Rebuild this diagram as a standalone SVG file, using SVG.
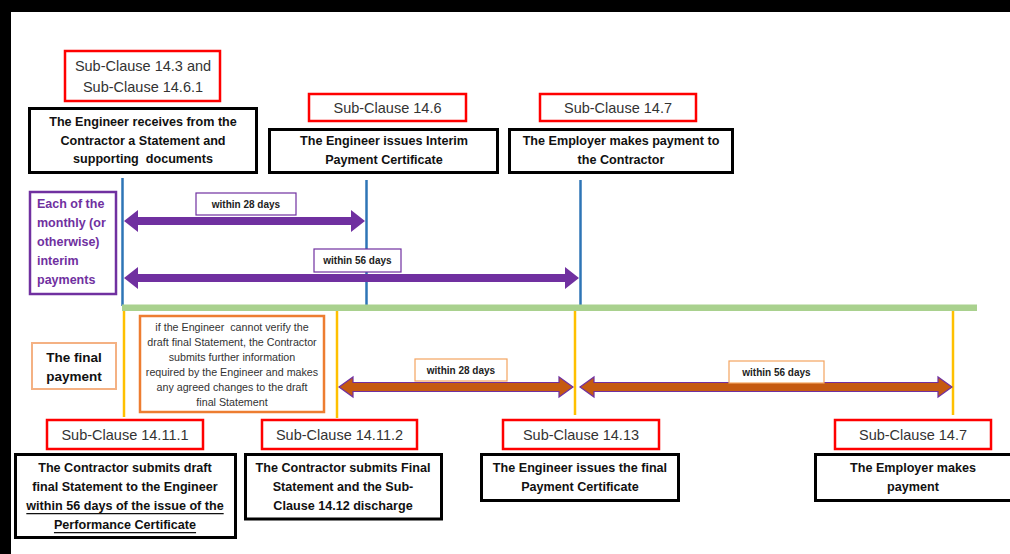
<svg xmlns="http://www.w3.org/2000/svg" width="1010" height="554" viewBox="0 0 1010 554">
<style>
text{font-family:"Liberation Sans",Arial,sans-serif;dominant-baseline:central;text-anchor:middle}
.red{fill:#fff;stroke:#ff0000;stroke-width:2.5}
.blk{fill:#fff;stroke:#000;stroke-width:3}
.sc{font-size:14.5px;fill:#333}
.bt{font-size:12.6px;font-weight:bold;fill:#111}
.lbl{font-size:10px;font-weight:bold;fill:#222}
.lp{fill:#fff;stroke:#7030a0;stroke-width:1.2}
.lo{fill:#fff;stroke:#f4a460;stroke-width:1.2}
.blue{stroke:#2e75b6;stroke-width:2.5}
.yel{stroke:#ffc000;stroke-width:2.5}
.parr{fill:#7030a0}
.barr{fill:#c55a11;stroke:#7030a0;stroke-width:1.2}
</style>
<rect x="0" y="0" width="1010" height="554" fill="#fff"/>
<rect x="0" y="0" width="1010" height="12" fill="#000"/>
<rect x="0" y="0" width="11" height="554" fill="#000"/>

<g id="connectors">
<line class="blue" x1="122.5" y1="178" x2="122.5" y2="306"/>
<line class="blue" x1="366.5" y1="180" x2="366.5" y2="306"/>
<line class="blue" x1="580.5" y1="180" x2="580.5" y2="306"/>
<rect x="122" y="304.5" width="855" height="6.5" fill="#a9d18e"/>
<line class="yel" x1="124" y1="311" x2="124" y2="417"/>
<line class="yel" x1="337" y1="311" x2="337" y2="418"/>
<line class="yel" x1="575" y1="311" x2="575" y2="415"/>
<line class="yel" x1="953" y1="311" x2="953" y2="415"/>
<path class="parr" d="M124,221 L138,210 L138,217 L351,217 L351,210 L365,221 L351,232 L351,225 L138,225 L138,232 Z"/>
<path class="parr" d="M124,278 L138,267 L138,274 L565,274 L565,267 L579,278 L565,289 L565,282 L138,282 L138,289 Z"/>
<path class="barr" d="M339,387 L353,377 L353,382.5 L559,382.5 L559,377 L573,387 L559,397 L559,391.5 L353,391.5 L353,397 Z"/>
<path class="barr" d="M580,387 L594,377 L594,382.5 L938,382.5 L938,377 L952,387 L938,397 L938,391.5 L594,391.5 L594,397 Z"/>
</g>

<g id="label-28a"><rect class="lp" x="196" y="193" width="100" height="22"/><text class="lbl" x="246" y="204">within 28 days</text></g>
<g id="label-56a"><rect class="lp" x="314" y="249" width="87" height="23"/><text class="lbl" x="357.5" y="260.5">within 56 days</text></g>
<g id="label-28b"><rect class="lo" x="415" y="359" width="92" height="22"/><text class="lbl" x="461" y="370">within 28 days</text></g>
<g id="label-56b"><rect class="lo" x="729" y="361" width="95" height="22"/><text class="lbl" x="776.5" y="372">within 56 days</text></g>

<g id="sc-14-3">
<rect class="red" x="65" y="51" width="155" height="50"/>
<text class="sc" x="143" y="66">Sub-Clause 14.3 and</text>
<text class="sc" x="143" y="87">Sub-Clause 14.6.1</text>
</g>
<g id="engineer-receives">
<rect class="blk" x="29.5" y="108.5" width="227" height="64"/>
<text class="bt" x="143" y="122">The Engineer receives from the</text>
<text class="bt" x="143" y="140.5">Contractor a Statement and</text>
<text class="bt" x="143" y="159" xml:space="preserve">supporting  documents</text>
</g>
<g id="sc-14-6">
<rect class="red" x="309" y="94" width="157" height="27"/>
<text class="sc" x="387.5" y="108">Sub-Clause 14.6</text>
</g>
<g id="engineer-issues-ipc">
<rect class="blk" x="269.5" y="129.5" width="228" height="43"/>
<text class="bt" x="384" y="141">The Engineer issues Interim</text>
<text class="bt" x="384" y="160">Payment Certificate</text>
</g>
<g id="sc-14-7-top">
<rect class="red" x="540" y="94" width="156" height="27"/>
<text class="sc" x="618" y="108">Sub-Clause 14.7</text>
</g>
<g id="employer-pays-top">
<rect class="blk" x="509.5" y="129.5" width="223" height="43"/>
<text class="bt" x="621" y="141">The Employer makes payment to</text>
<text class="bt" x="621" y="160">the Contractor</text>
</g>

<g id="interim-label">
<rect x="30" y="192" width="86" height="102" fill="#fff" stroke="#7030a0" stroke-width="2.5"/>
<g style="text-anchor:start;font-size:12.5px;font-weight:bold;fill:#7030a0">
<text x="37" y="204" style="text-anchor:start">Each of the</text>
<text x="37" y="223" style="text-anchor:start">monthly (or</text>
<text x="37" y="242" style="text-anchor:start">otherwise)</text>
<text x="37" y="261" style="text-anchor:start">interim</text>
<text x="37" y="280" style="text-anchor:start">payments</text>
</g>
</g>

<g id="final-label">
<rect x="32" y="343" width="84" height="46" fill="#fff" stroke="#f4b183" stroke-width="2"/>
<text x="74" y="357" style="font-size:13.5px;font-weight:bold;fill:#111">The final</text>
<text x="74" y="376" style="font-size:13.5px;font-weight:bold;fill:#111">payment</text>
</g>

<g id="verify-note">
<rect x="140" y="316" width="184" height="96" fill="#fff" stroke="#ed7d31" stroke-width="2.5"/>
<g style="font-size:10.7px;fill:#333">
<text x="232" y="327" xml:space="preserve">if the Engineer  cannot verify the</text>
<text x="232" y="342">draft final Statement, the Contractor</text>
<text x="232" y="357">submits further information</text>
<text x="232" y="372">required by the Engineer and makes</text>
<text x="232" y="387">any agreed changes to the draft</text>
<text x="232" y="402">final Statement</text>
</g>
</g>

<g id="sc-14-11-1">
<rect class="red" x="47" y="420" width="156" height="29"/>
<text class="sc" x="125" y="435">Sub-Clause 14.11.1</text>
</g>
<g id="contractor-draft">
<rect class="blk" x="15.5" y="454.5" width="220" height="83"/>
<text class="bt" x="125" y="468">The Contractor submits draft</text>
<text class="bt" x="125" y="487">final Statement to the Engineer</text>
<text class="bt" x="125" y="506" text-decoration="underline">within 56 days of the issue of the</text>
<text class="bt" x="125" y="525" text-decoration="underline">Performance Certificate</text>
</g>
<g id="sc-14-11-2">
<rect class="red" x="262" y="420" width="155" height="29"/>
<text class="sc" x="339.5" y="435">Sub-Clause 14.11.2</text>
</g>
<g id="contractor-final">
<rect class="blk" x="245.5" y="454.5" width="196" height="64.5"/>
<text class="bt" x="343" y="468">The Contractor submits Final</text>
<text class="bt" x="343" y="487">Statement and the Sub-</text>
<text class="bt" x="343" y="506">Clause 14.12 discharge</text>
</g>
<g id="sc-14-13">
<rect class="red" x="503" y="420" width="156" height="29"/>
<text class="sc" x="581" y="435">Sub-Clause 14.13</text>
</g>
<g id="engineer-final-cert">
<rect class="blk" x="481.5" y="454.5" width="197" height="46"/>
<text class="bt" x="580" y="468">The Engineer issues the final</text>
<text class="bt" x="580" y="487">Payment Certificate</text>
</g>
<g id="sc-14-7-bottom">
<rect class="red" x="835" y="420" width="156" height="29"/>
<text class="sc" x="913" y="435">Sub-Clause 14.7</text>
</g>
<g id="employer-pays-final">
<rect class="blk" x="815.5" y="454.5" width="200" height="46"/>
<text class="bt" x="913" y="468">The Employer makes</text>
<text class="bt" x="913" y="487">payment</text>
</g>
</svg>
